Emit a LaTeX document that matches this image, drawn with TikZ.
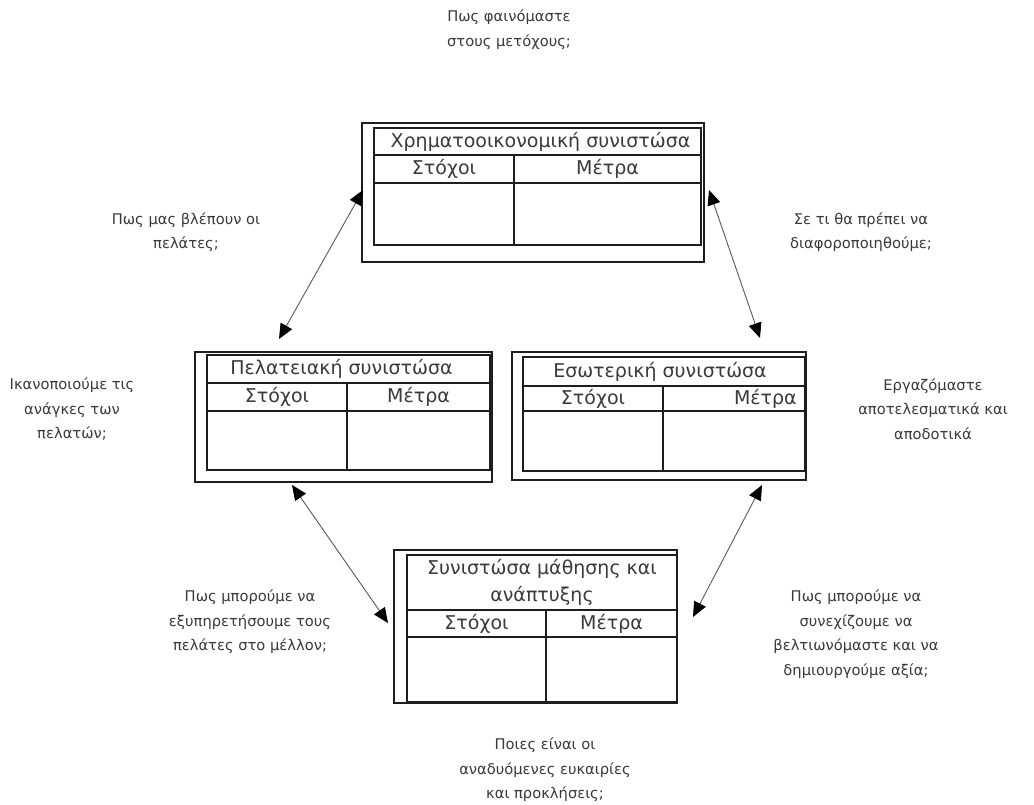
\documentclass[tikz,border=0pt]{standalone}
\usepackage{fontspec}
\setmainfont{DejaVu Sans}
\usetikzlibrary{arrows.meta,fit}
\definecolor{ink}{HTML}{1E1E1E}
\definecolor{txt}{HTML}{3A3A3A}
\definecolor{wire}{HTML}{5A5A5A}
\tikzset{
  bigtri/.tip={Triangle[length=15pt,width=13pt,color=black]},
  frame/.style={draw=ink, line width=1.5pt, inner sep=0pt},
  cell/.style={draw=ink, line width=1.8pt, inner sep=0pt},
  celltxt/.style={inner sep=1pt, text=txt, align=center,
    font=\fontsize{19}{27}\selectfont},
  question/.style={text=txt, align=center, inner sep=0pt,
    font=\fontsize{14.7}{24.5}\selectfont},
  conn/.style={draw=wire, line width=0.9pt, bigtri-bigtri}
}
\begin{document}
\begin{tikzpicture}[x=1pt,y=-1pt]
\useasboundingbox (0,0) rectangle (1034,805);
\fill[white] (0,0) rectangle (1034,805);

% financial perspective
\node[frame, fit={(362,123) (704,262)}] (fin) {};
\node[cell, fit={(374,128) (701,155)}] (finT) {};
\node[cell, fit={(374,155) (514,183)}] (finG) {};
\node[cell, fit={(514,155) (701,183)}] (finM) {};
\node[cell, fit={(374,183) (514,245)}] (finGb) {};
\node[cell, fit={(514,183) (701,245)}] (finMb) {};
\node[celltxt] (finTt) at ([xshift=3pt]finT.center) {Χρηματοοικονομική συνιστώσα};
\node[celltxt] (finGt) at (finG.center) {Στόχοι};
\node[celltxt] (finMt) at (finM.center) {Μέτρα};

% customer perspective
\node[frame, fit={(195,352) (492,482)}] (cus) {};
\node[cell, fit={(207,355) (490,383)}] (cusT) {};
\node[cell, fit={(207,383) (347,411)}] (cusG) {};
\node[cell, fit={(347,383) (490,411)}] (cusM) {};
\node[cell, fit={(207,411) (347,470)}] (cusGb) {};
\node[cell, fit={(347,411) (490,470)}] (cusMb) {};
\node[celltxt] (cusTt) at ([xshift=-7pt]cusT.center) {Πελατειακή συνιστώσα};
\node[celltxt] (cusGt) at (cusG.center) {Στόχοι};
\node[celltxt] (cusMt) at (cusM.center) {Μέτρα};

% internal perspective
\node[frame, fit={(512,352) (806,480)}] (int) {};
\node[cell, fit={(523,357) (805,386)}] (intT) {};
\node[cell, fit={(523,386) (663,411)}] (intG) {};
\node[cell, fit={(663,386) (805,411)}] (intM) {};
\node[cell, fit={(523,411) (663,471)}] (intGb) {};
\node[cell, fit={(663,411) (805,471)}] (intMb) {};
\node[celltxt] (intTt) at ([xshift=-4pt]intT.center) {Εσωτερική συνιστώσα};
\node[celltxt] (intGt) at (intG.center) {Στόχοι};
\node[celltxt, anchor=east] (intMt) at ([xshift=-8pt]intM.east) {Μέτρα};

% learning and growth perspective
\node[frame, fit={(394,550) (677,703)}] (lrn) {};
\node[cell, fit={(407,555) (677,610)}] (lrnT) {};
\node[cell, fit={(407,610) (546,637)}] (lrnG) {};
\node[cell, fit={(546,610) (677,637)}] (lrnM) {};
\node[cell, fit={(407,637) (546,702)}] (lrnGb) {};
\node[cell, fit={(546,637) (677,702)}] (lrnMb) {};
\node[celltxt] (lrnTt) at (lrnT.center) {Συνιστώσα μάθησης και\\ανάπτυξης};
\node[celltxt] (lrnGt) at (lrnG.center) {Στόχοι};
\node[celltxt] (lrnMt) at (lrnM.center) {Μέτρα};

% guiding questions
\node[question] (q1) at (509,29.5) {Πως φαινόμαστε\\στους μετόχους;};
\node[question] (q2) at (186,232) {Πως μας βλέπουν οι\\πελάτες;};
\node[question] (q3) at (861,232) {Σε τι θα πρέπει να\\διαφοροποιηθούμε;};
\node[question] (q4) at (72,409) {Ικανοποιούμε τις\\ανάγκες των\\πελατών;};
\node[question] (q5) at (933,409) {Εργαζόμαστε\\αποτελεσματικά και\\αποδοτικά};
\node[question] (q6) at (250,622) {Πως μπορούμε να\\εξυπηρετήσουμε τους\\πελάτες στο μέλλον;};
\node[question] (q7) at (856,634) {Πως μπορούμε να\\συνεχίζουμε να\\βελτιωνόμαστε και να\\δημιουργούμε αξία;};
\node[question] (q8) at (545,770) {Ποιες είναι οι\\αναδυόμενες ευκαιρίες\\και προκλήσεις;};

% cause-and-effect links
\coordinate (finSW) at (363,190);
\coordinate (cusN)  at (279,339);
\coordinate (finSE) at (709,190);
\coordinate (intN)  at (760,338);
\coordinate (cusS)  at (292,485);
\coordinate (lrnW)  at (388,623);
\coordinate (intS)  at (762,485);
\coordinate (lrnE)  at (693,617);
\draw[conn] (finSW) -- (cusN);
\draw[conn] (finSE) -- (intN);
\draw[conn] (cusS) -- (lrnW);
\draw[conn] (intS) -- (lrnE);
\end{tikzpicture}
\end{document}
